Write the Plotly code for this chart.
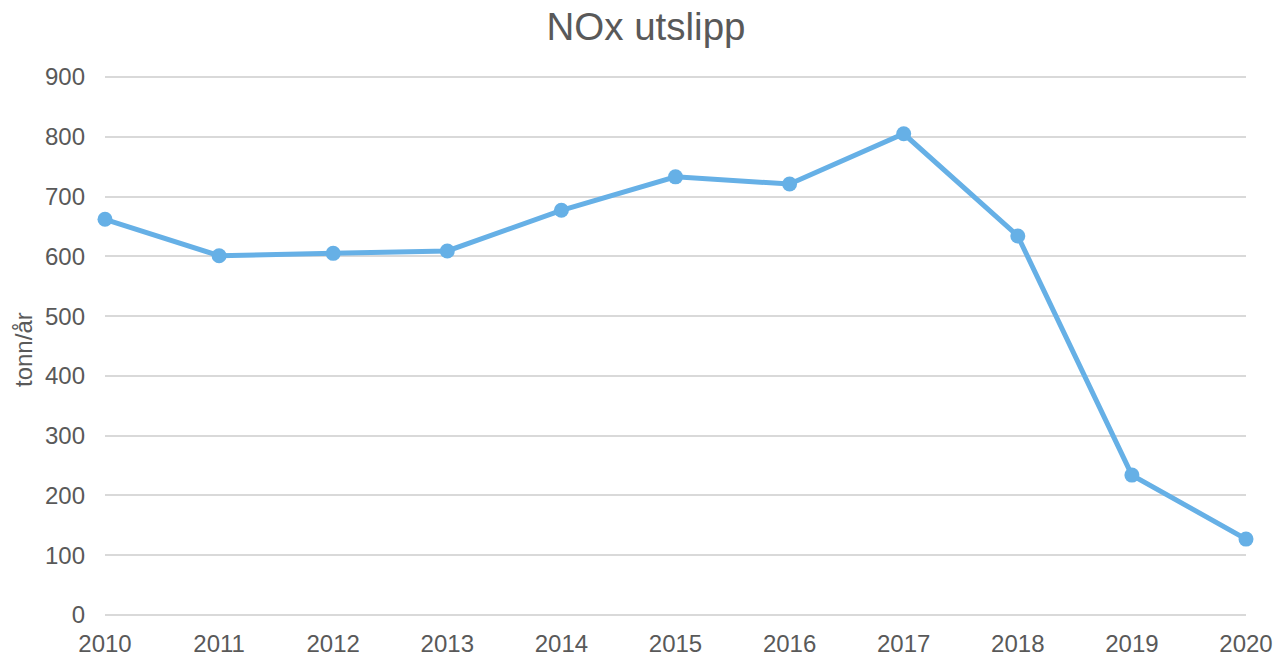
import plotly.graph_objects as go

years = [2010, 2011, 2012, 2013, 2014, 2015, 2016, 2017, 2018, 2019, 2020]
nox = [662, 601, 605, 609, 677, 733, 721, 805, 634, 234, 127]
y_ticks = [0, 100, 200, 300, 400, 500, 600, 700, 800, 900]

line_color = "#66b0e6"
text_color = "#595959"
grid_color = "#d9d9d9"
font_family = "Liberation Sans, Arial, sans-serif"

W, H = 1279, 657
# plot area padded 2px top/bottom so the 0 and 900 gridlines are not clipped
L, R, T, B = 105, 33, 75, 40
pw, ph = W - L - R, H - T - B
pad = 2 * 900 / (ph - 4)

fig = go.Figure()
fig.add_trace(go.Scatter(
    x=years, y=nox, mode="lines+markers",
    line=dict(color=line_color, width=5),
    marker=dict(color=line_color, size=15),
    cliponaxis=False, showlegend=False,
))

fig.update_layout(
    width=W, height=H,
    paper_bgcolor="white", plot_bgcolor="white",
    margin=dict(l=L, r=R, t=T, b=B, autoexpand=False),
    font=dict(family=font_family, color=text_color, size=24),
    title=dict(text="NOx utslipp", x=646 / W, xanchor="center", y=1 - 27 / H, yanchor="middle",
               font=dict(size=38.5, color=text_color, family=font_family)),
    xaxis=dict(range=[2010, 2020], tickvals=years, ticktext=[str(y) for y in years],
               showgrid=False, zeroline=False, showline=False, ticks="", automargin=False,
               tickfont=dict(size=24, color=text_color), ticklabelstandoff=10),
    yaxis=dict(range=[-pad, 900 + pad], tickvals=y_ticks, showgrid=True, gridcolor=grid_color, gridwidth=1.5,
               zeroline=False, showline=False, ticks="", automargin=False,
               tickfont=dict(size=24, color=text_color), ticklabelstandoff=19),
    annotations=[dict(text="tonn/år", xref="paper", yref="paper",
                      x=(23 - L) / pw, y=(H - B - 350) / ph, xanchor="center", yanchor="middle",
                      textangle=-90, showarrow=False, font=dict(size=24, color=text_color))],
)

fig.write_html("out.html", config={"displayModeBar": False},
               post_script="document.body.style.margin='0';")
